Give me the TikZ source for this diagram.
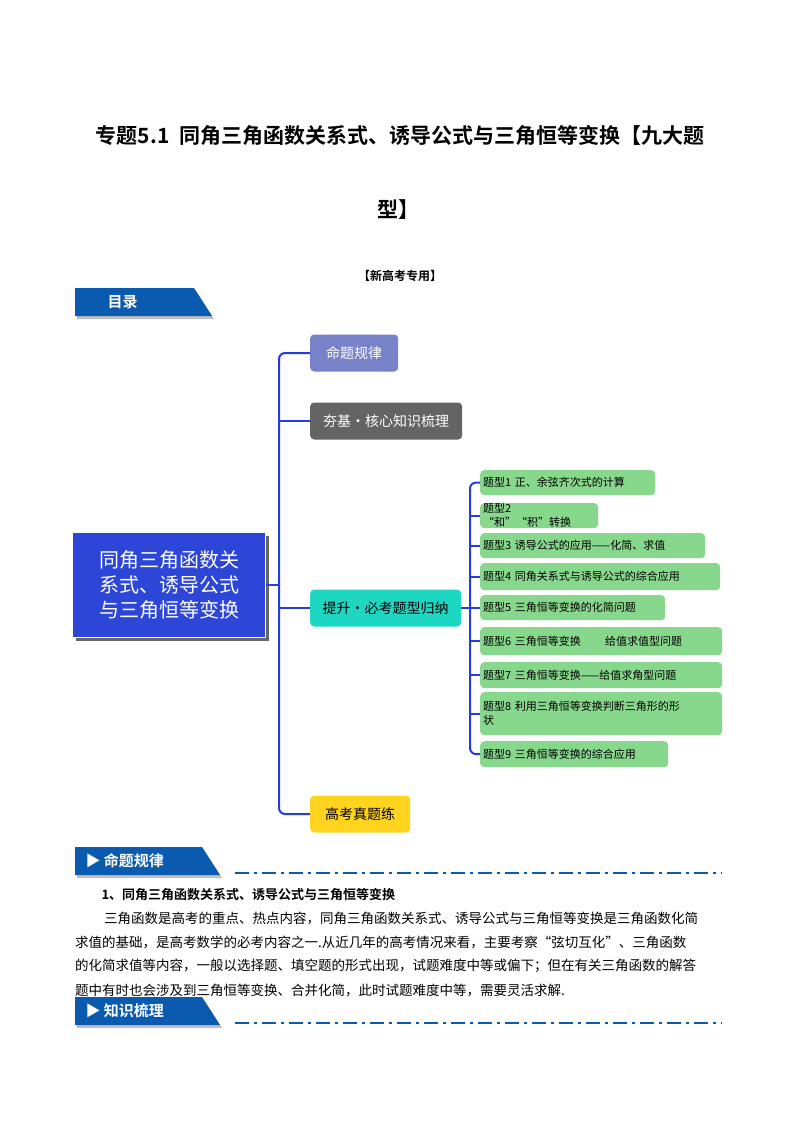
\documentclass[tikz,border=0pt]{standalone}
\usepackage{fontspec}
\setmainfont{Noto Sans CJK SC}
\newfontfamily\cjkb{Noto Sans CJK SC Bold}
\usetikzlibrary{calc}
\definecolor{bannerblue}{RGB}{10,90,175}
\definecolor{mainblue}{RGB}{45,70,215}
\definecolor{trunk}{RGB}{40,60,220}
\definecolor{purp}{RGB}{120,130,200}
\definecolor{gry}{RGB}{100,100,100}
\definecolor{cyanb}{RGB}{30,215,195}
\definecolor{yel}{RGB}{255,212,30}
\definecolor{grn}{RGB}{135,215,140}
\tikzset{
 branch/.style={rounded corners=4pt,minimum height=37pt,inner xsep=0pt,anchor=west,font=\fontsize{14}{16}\selectfont},
 item/.style={fill=grn,rounded corners=4pt,anchor=north west,inner sep=0pt,font=\fontsize{11}{14}\selectfont,align=left},
 conn/.style={draw=trunk,line width=2pt,rounded corners=6pt},
 body/.style={anchor=west,inner sep=0pt,font=\fontsize{13.5}{16}\selectfont},
 dashln/.style={draw=bannerblue,line width=2pt,dash pattern=on 14pt off 5pt on 3pt off 5pt},
}
\newcommand{\banner}[4]{% name, ytop, width, text
 \fill[gray!50] (77,#2+3) -- (#3-16,#2+3) -- (#3+2,#2+31) -- (77,#2+31) -- cycle;
 \fill[bannerblue] (75,#2) -- (#3-18,#2) -- (#3,#2+28) -- (75,#2+28) -- cycle;
 \node[text=white,anchor=west,font=\cjkb\fontsize{15}{17}\selectfont] (#1) at (82,#2+14) {#4};
}
\begin{document}
\begin{tikzpicture}[x=1pt,y=-1pt]
\useasboundingbox (0,0) rectangle (800,1132);
\node[font=\cjkb\fontsize{21}{24}\selectfont] (t1) at (400,135) {专题5.1\ \ 同角三角函数关系式、诱导公式与三角恒等变换【九大题};
\node[font=\cjkb\fontsize{21}{24}\selectfont] (t2) at (398,210) {型】};
\node[font=\cjkb\fontsize{12}{14}\selectfont] (t3) at (400,276) {【新高考专用】};
\banner{ml}{288}{212}{\hspace{22pt}目录}
% main box
\fill[black!60] (76,536) rectangle (269,641);
\node[fill=mainblue,draw=white,line width=1pt,minimum width=193pt,minimum height=105pt,anchor=north west,text=white,align=center,font=\fontsize{20}{25}\selectfont] (main) at (72,532) {同角三角函数关\\系式、诱导公式\\与三角恒等变换};
% branches
\node[branch,fill=purp,text=white,minimum width=88pt] (b1) at (310,353) {命题规律};
\node[branch,fill=gry,text=white,minimum width=152pt] (b2) at (310,421) {夯基·核心知识梳理};
\node[branch,fill=cyanb,text=black,minimum width=151pt] (b3) at (310,608) {提升·必考题型归纳};
\node[branch,fill=yel,text=black,minimum width=100pt] (b4) at (310,814) {高考真题练};
\coordinate (tr) at (279,585);
\draw[conn] (main.east|-tr) -- (tr);
\draw[conn] (b1.west) -- (279,353) -- (279,814) -- (b4.west);
\draw[conn] (b2.west) -- (279,421);
\draw[conn] (b3.west) -- (279,608);
% items
\newcommand{\itm}[5]{\node[item,minimum width=#3pt,minimum height=#4pt,text width=#3pt-6pt,inner xsep=3pt] (#1) at (480,#2) {#5};}
\itm{i1}{470}{175}{25}{题型1 正、余弦齐次式的计算}
\itm{i2}{503}{118}{25}{题型2 “和”“积”转换}
\itm{i3}{533}{225}{25}{题型3 诱导公式的应用——化简、求值}
\itm{i4}{563}{240}{27}{题型4 同角关系式与诱导公式的综合应用}
\itm{i5}{595}{185}{25}{题型5 三角恒等变换的化简问题}
\itm{i6}{627}{242}{28}{题型6 三角恒等变换\hspace{2.2em}给值求值型问题}
\itm{i7}{662}{242}{26}{题型7 三角恒等变换——给值求角型问题}
\itm{i8}{692}{242}{43}{题型8 利用三角恒等变换判断三角形的形\\状}
\itm{i9}{741}{188}{26}{题型9 三角恒等变换的综合应用}
\draw[conn] (b3.east) -- (470,608);
\draw[conn] (i1.west) -- (470,482.5) -- (470,754) -- (i9.west);
\foreach \n in {i2,i3,i4,i5,i6,i7,i8}{\draw[conn] (\n.west) -- (470,0|-\n.west);}
% section 1
\banner{s1}{847}{220}{▶\ 命题规律}
\draw[dashln] (235,873) -- (722,873);
\node[anchor=west,font=\cjkb\fontsize{13}{15}\selectfont] (h1) at (98,895) {1、同角三角函数关系式、诱导公式与三角恒等变换};
\node[body] (p1) at (104,918) {三角函数是高考的重点、热点内容，同角三角函数关系式、诱导公式与三角恒等变换是三角函数化简};
\node[body] (p2) at (75,942) {求值的基础，是高考数学的必考内容之一.从近几年的高考情况来看，主要考察“弦切互化”、三角函数};
\node[body] (p3) at (75,966) {的化简求值等内容，一般以选择题、填空题的形式出现，试题难度中等或偏下；但在有关三角函数的解答};
\node[body] (p4) at (75,990) {题中有时也会涉及到三角恒等变换、合并化简，此时试题难度中等，需要灵活求解.};
\banner{s2}{997}{220}{▶\ 知识梳理}
\draw[dashln] (235,1023) -- (722,1023);
\end{tikzpicture}
\end{document}
